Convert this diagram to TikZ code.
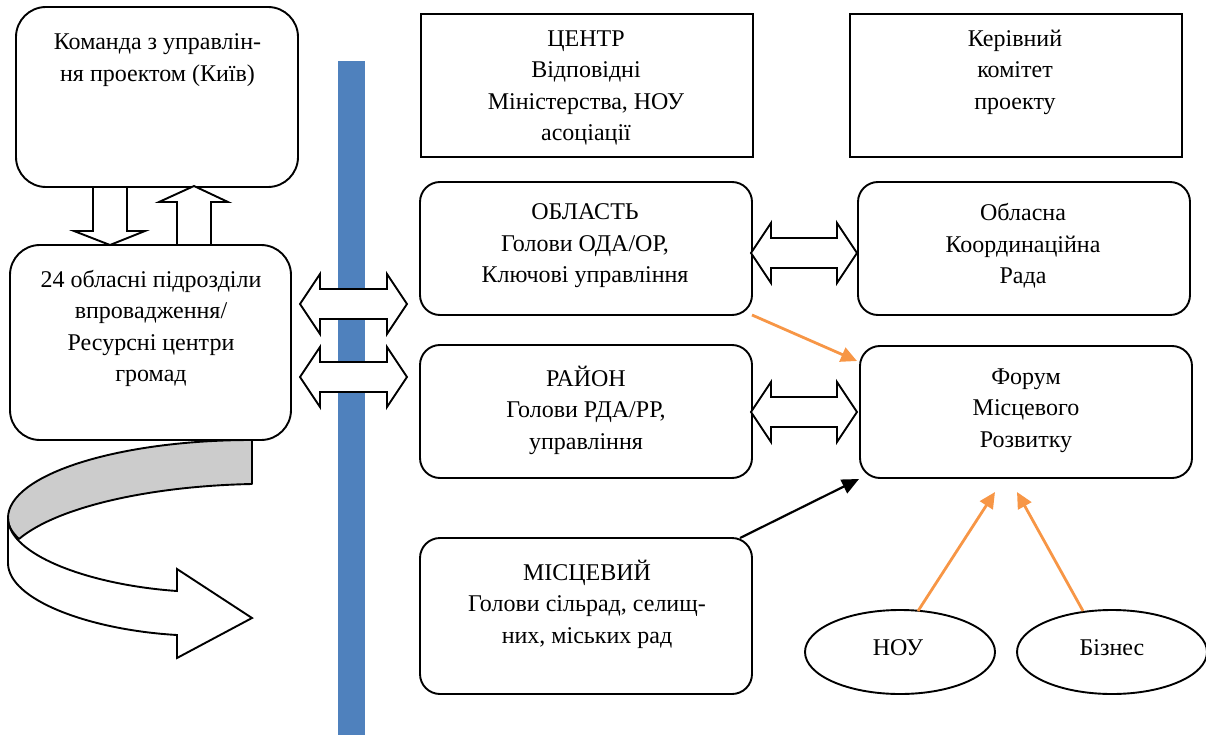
\documentclass[tikz,border=0pt]{standalone}
\usepackage{fontspec}
\setmainfont{Liberation Serif}
\usetikzlibrary{arrows.meta,calc,shapes.geometric}
\definecolor{barblue}{HTML}{4F81BD}
\definecolor{orng}{HTML}{F79646}
\definecolor{bandgray}{HTML}{CCCCCC}
\newcommand\hdblarrow[3]{%
  \draw[blockarrow] (#1,#3) -- ({#1+20},{#3-30}) -- ({#1+20},{#3-15}) -- ({#2-20},{#3-15})
    -- ({#2-20},{#3-30}) -- (#2,#3) -- ({#2-20},{#3+30}) -- ({#2-20},{#3+15})
    -- ({#1+20},{#3+15}) -- ({#1+20},{#3+30}) -- cycle;}
\begin{document}
\begin{tikzpicture}[x=1pt,y=-1pt,
  txt/.style={font=\fontsize{24}{31.5}\selectfont, align=center, inner sep=0pt},
  box/.style={draw, line width=1.9pt, inner sep=0pt, outer sep=0pt, fill=white},
  rbox/.style={box, rounded corners=20pt},
  bigbox/.style={box, rounded corners=30pt},
  oval/.style={draw, ellipse, line width=1.9pt, inner sep=0pt, outer sep=0pt},
  blockarrow/.style={draw, line width=1.9pt, fill=white, line join=miter},
  orangearrow/.style={draw=orng, line width=2.8pt, -{Triangle[length=16pt,width=15pt]}, orng},
  blackarrow/.style={draw, line width=2.2pt, -{Triangle[length=17pt,width=15pt]}}]
\useasboundingbox (0,0) rectangle (1206,735);

% blue bar
\fill[barblue] (338,61) rectangle (365,735);

% boxes
\node[bigbox, minimum width=282pt, minimum height=180pt] (cmd) at (157,97) {};
\node[bigbox, minimum width=281pt, minimum height=195pt] (prov) at (150.5,342.5) {};
\node[box, minimum width=332pt, minimum height=143pt] (centr) at (587,85.5) {};
\node[box, minimum width=332pt, minimum height=143pt] (kom) at (1016,85.5) {};
\node[rbox, minimum width=332pt, minimum height=133pt] (obl) at (586,248.5) {};
\node[rbox, minimum width=332pt, minimum height=133pt] (orada) at (1024,248.5) {};
\node[rbox, minimum width=332pt, minimum height=133pt] (raion) at (586,411.5) {};
\node[rbox, minimum width=332pt, minimum height=132pt] (forum) at (1026,412) {};
\node[rbox, minimum width=332pt, minimum height=156pt] (misc) at (586,616) {};
\node[oval, minimum width=190pt, minimum height=84pt] (nou) at (900,652) {};
\node[oval, minimum width=190pt, minimum height=84pt] (biz) at (1112,652) {};

% texts
\node[txt] (cmdT) at (157.5,60) {Команда з управлін-\\ня проектом (Київ)};
\node[txt] (provT) at (151,328.5) {24 обласні підрозділи\\впровадження/\\Ресурсні центри\\громад};
\node[txt] (centrT) at (586,88) {ЦЕНТР\\Відповідні\\Міністерства, НОУ\\асоціації};
\node[txt] (komT) at (1015,72) {Керівний\\комітет\\проекту};
\node[txt] (oblT) at (585,246) {ОБЛАСТЬ\\Голови ОДА/ОР,\\Ключові управління};
\node[txt] (oradaT) at (1023,246) {Обласна\\Координаційна\\Рада};
\node[txt] (raionT) at (586,410) {РАЙОН\\Голови РДА/РР,\\управління};
\node[txt] (forumT) at (1026,410.5) {Форум\\Місцевого\\Розвитку};
\node[txt] (miscT) at (587,604) {МІСЦЕВИЙ\\Голови сільрад, селищ-\\них, міських рад};
\node[txt] (nouT) at (898,648) {НОУ};
\node[txt] (bizT) at (1112,648) {Бізнес};

% vertical block arrows between cmd and prov
\draw[blockarrow] (93,187) -- (127,187) -- (127,231) -- (145,231) -- (110,245)
  -- (74,231) -- (93,231) -- cycle;
\draw[blockarrow] (177,245) -- (211,245) -- (211,202) -- (228,202) -- (194,186)
  -- (159,202) -- (177,202) -- cycle;

% horizontal double arrows
\hdblarrow{300}{407}{304}
\hdblarrow{300}{407}{377}
\hdblarrow{751}{857}{253}
\hdblarrow{751}{857}{412}

% curved arrow below prov
\draw[line width=1.9pt, fill=bandgray, line join=round]
  (252,440) .. controls (117,440) and (8,475) .. (8,518)
  .. controls (8,527) and (13,533) .. (19,539)
  .. controls (57,507) and (150,486) .. (252,484) -- cycle;
\draw[line width=1.9pt, fill=white, line join=miter]
  (8,518) -- (8,563) .. controls (8,600) and (90,630) .. (177,635)
  -- (177,658) -- (252,618) -- (177,569) -- (177,591)
  .. controls (90,585) and (8,555) .. (8,518) -- cycle;

% connectors
\coordinate (o1s) at (obl.south east);
\coordinate (o1e) at ($(forum.north west)+(-3,15)$);
\draw[orangearrow] (o1s) -- (o1e);
\coordinate (bks) at ($(misc.north east)+(-12,0)$);
\coordinate (bke) at ($(forum.south west)+(-1,1)$);
\draw[blackarrow] (bks) -- (bke);
\coordinate (nous) at ($(nou.north)+(18,1)$);
\coordinate (noue) at ($(forum.south)+(-31,14)$);
\draw[orangearrow] (nous) -- (noue);
\coordinate (bizs) at ($(biz.north)+(-29,1)$);
\coordinate (bize) at ($(forum.south)+(-9,14)$);
\draw[orangearrow] (bizs) -- (bize);
\end{tikzpicture}
\end{document}
